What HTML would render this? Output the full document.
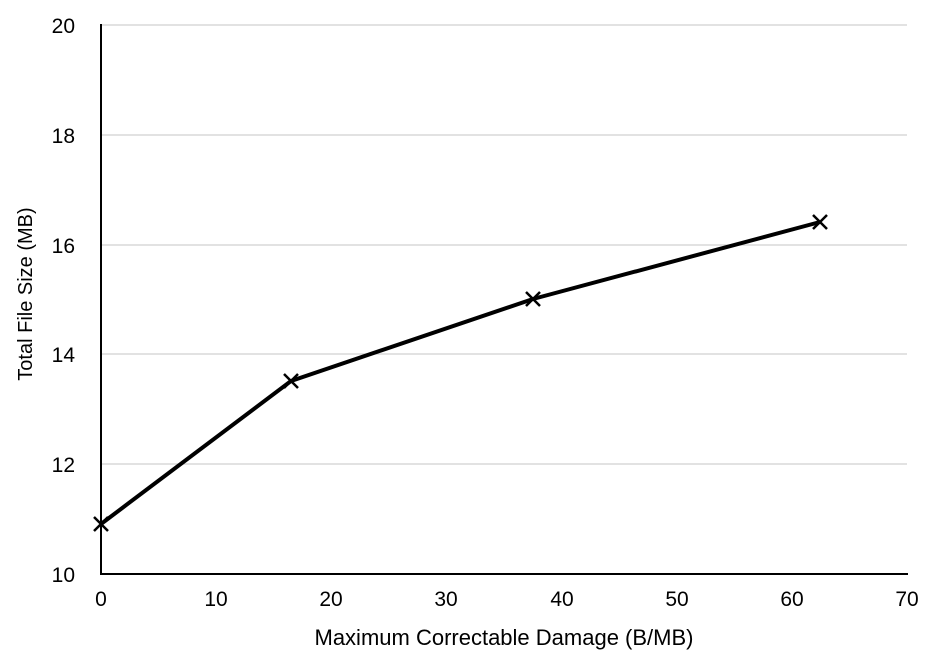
<!DOCTYPE html>
<html><head><meta charset="utf-8"><style>
html,body{margin:0;padding:0;background:#fff;}
svg{display:block;}
text{font-family:"Liberation Sans",Arial,sans-serif;fill:#000;}
</style></head><body>
<svg width="940" height="666" viewBox="0 0 940 666" xmlns="http://www.w3.org/2000/svg">
<g stroke="#d0d0d0" stroke-width="1.2">
<line x1="101" y1="25" x2="907" y2="25"/>
<line x1="101" y1="135" x2="907" y2="135"/>
<line x1="101" y1="245" x2="907" y2="245"/>
<line x1="101" y1="354" x2="907" y2="354"/>
<line x1="101" y1="464" x2="907" y2="464"/>
</g>
<g stroke="#000" stroke-width="2">
<line x1="101" y1="24" x2="101" y2="574"/>
<line x1="100" y1="574" x2="908" y2="574"/>
</g>
<g font-size="21" text-anchor="end">
<text x="75" y="33">20</text>
<text x="75" y="143">18</text>
<text x="75" y="253">16</text>
<text x="75" y="362">14</text>
<text x="75" y="472">12</text>
<text x="75" y="582">10</text>
</g>
<g font-size="21" text-anchor="middle">
<text x="101" y="606">0</text>
<text x="216" y="606">10</text>
<text x="331" y="606">20</text>
<text x="446" y="606">30</text>
<text x="562" y="606">40</text>
<text x="677" y="606">50</text>
<text x="792" y="606">60</text>
<text x="907" y="606">70</text>
</g>
<text x="504" y="645" font-size="22" text-anchor="middle">Maximum Correctable Damage (B/MB)</text>
<text transform="translate(32,294) rotate(-90)" font-size="20" text-anchor="middle">Total File Size (MB)</text>
<polyline points="101,524 291,381 533,299 820,222" fill="none" stroke="#000" stroke-width="4" stroke-linejoin="round"/>
<g stroke="#000" stroke-width="2.5">
<path d="M94,517 L108,531 M108,517 L94,531"/>
<path d="M284,374 L298,388 M298,374 L284,388"/>
<path d="M526,292 L540,306 M540,292 L526,306"/>
<path d="M813,215 L827,229 M827,215 L813,229"/>
</g>
</svg>
</body></html>
